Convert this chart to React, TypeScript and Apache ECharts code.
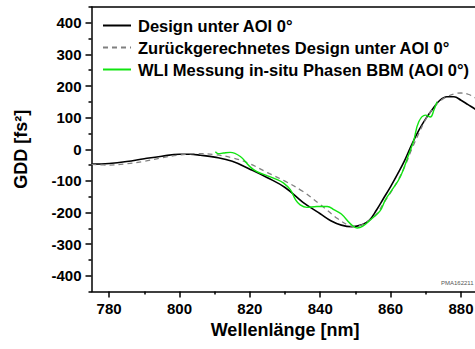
import React, { useEffect, useRef } from "react";
import * as echarts from "echarts";

const designWl = [775, 780, 785, 790, 795, 800, 803, 806, 810, 815, 820, 825, 830, 835, 840, 843, 846, 849, 852, 854, 856, 858, 860, 862, 864, 866, 868, 870, 872, 874, 876, 878, 880, 882, 884, 886];
const designGdd = [-47, -45, -39, -30, -22, -16, -16, -19, -25, -38, -63, -90, -121, -167, -204, -226, -240, -245, -238, -224, -192, -155, -118, -78, -35, 15, 60, 97, 128, 155, 166, 166, 155, 141, 127, 110];

const recalcWl = [775, 780, 785, 790, 795, 800, 805, 810, 815, 820, 825, 830, 835, 840, 845, 848, 850, 852, 854, 856, 858, 860, 862, 864, 866, 868, 870, 872, 874, 876, 878, 880, 882, 884, 886];
const recalcGdd = [-48, -50, -46, -38, -27, -18, -14, -17, -27, -46, -74, -101, -133, -175, -220, -240, -244, -238, -225, -205, -171, -137, -100, -55, 0, 50, 95, 128, 152, 166, 175, 178, 174, 163, 148];

const wliWl = [810.2, 811, 812.5, 814.4, 817.3, 820, 822, 825, 827.6, 829.6, 831.5, 833, 834.3, 836.2, 839, 842, 844, 846, 848.6, 850.5, 852, 854.3, 857, 858.5, 860, 862.8, 865.2, 866.5, 868, 869.9, 871.3, 872.3, 873.2];
const wliGdd = [-8, -14, -12, -10, -23, -55, -71, -84, -95, -107, -128, -160, -176, -184, -181, -181, -192, -205, -236, -249, -244, -223, -195, -160, -135, -86, -15, 25, 87, 108, 102, 124, 150];

const xMajorTicks = [780, 800, 820, 840, 860, 880];
const xMinorTicks = [790, 810, 830, 850, 870];
const yMajorTicks = [-400, -300, -200, -100, 0, 100, 200, 300, 400];
const yMinorTicks = [-450, -350, -250, -150, -50, 50, 150, 250, 350, 450];

const seriesNames = [
  "Design unter AOI 0°",
  "Zurückgerechnetes Design unter AOI 0°",
  "WLI Messung in-situ Phasen BBM (AOI 0°)",
];

const FONT = 'Arial, "Liberation Sans", sans-serif';

function pairs(xs: number[], ys: number[]) {
  return xs.map((x, i) => [x, ys[i]]);
}

export default function App() {
  const ref = useRef<HTMLDivElement>(null);
  useEffect(() => {
    if (!ref.current) return;
    const chart = echarts.init(ref.current, null, { renderer: "svg" });
    const axisLine = { show: true, onZero: false, lineStyle: { color: "#000", width: 1.5 } };
    const hiddenLine = { show: false, onZero: false };
    chart.setOption({
      animation: false,
      backgroundColor: "#fff",
      textStyle: { fontFamily: FONT },
      grid: { left: 91.5, top: 7, right: -3.6, bottom: 57.5, outerBoundsMode: "none", containLabel: false },
      legend: {
        left: 97,
        top: 12,
        orient: "vertical",
        itemWidth: 28,
        itemHeight: 14,
        itemGap: 5,
        data: seriesNames,
        itemStyle: { opacity: 0 },
        textStyle: { fontFamily: FONT, fontSize: 16.5, fontWeight: "bold", color: "#000", lineHeight: 16, padding: [0, 0, 0, 2] },
      },
      xAxis: [
        {
          type: "value",
          min: 775,
          max: 885,
          position: "bottom",
          axisLine,
          splitLine: { show: false },
          axisTick: { show: true, inside: false, length: 6, customValues: xMajorTicks, lineStyle: { color: "#000", width: 1.5 } },
          axisLabel: { customValues: xMajorTicks, margin: 9, fontFamily: FONT, fontSize: 15, fontWeight: "bold", color: "#000" },
          name: "Wellenlänge [nm]",
          nameLocation: "middle",
          nameGap: 29,
          nameTextStyle: { fontFamily: FONT, fontSize: 18, fontWeight: "bold", color: "#000" },
        },
        {
          type: "value",
          min: 775,
          max: 885,
          position: "bottom",
          offset: 0,
          axisLine: hiddenLine,
          splitLine: { show: false },
          axisTick: { show: true, length: 3, customValues: xMinorTicks, lineStyle: { color: "#000", width: 1.5 } },
          axisLabel: { show: false },
        },
        {
          type: "value",
          min: 775,
          max: 885,
          position: "top",
          offset: 0,
          axisLine,
          splitLine: { show: false },
          axisTick: { show: false },
          axisLabel: { show: false },
        },
      ],
      yAxis: [
        {
          type: "value",
          min: -450,
          max: 450,
          position: "left",
          axisLine,
          splitLine: { show: false },
          axisTick: { show: true, length: 6, customValues: yMajorTicks, lineStyle: { color: "#000", width: 1.5 } },
          axisLabel: { customValues: yMajorTicks, margin: 10, fontFamily: FONT, fontSize: 15, fontWeight: "bold", color: "#000" },
          name: "GDD [fs²]",
          nameLocation: "middle",
          nameGap: 62,
          nameTextStyle: { fontFamily: FONT, fontSize: 18, fontWeight: "bold", color: "#000" },
        },
        {
          type: "value",
          min: -450,
          max: 450,
          position: "left",
          offset: 0,
          axisLine: hiddenLine,
          splitLine: { show: false },
          axisTick: { show: true, length: 3, customValues: yMinorTicks, lineStyle: { color: "#000", width: 1.5 } },
          axisLabel: { show: false },
        },
      ],
      series: [
        {
          name: seriesNames[0],
          type: "line",
          data: pairs(designWl, designGdd),
          symbol: "none",
          smooth: 0.4,
          clip: true,
          lineStyle: { color: "#000", width: 1.6 },
          itemStyle: { color: "#000" },
        },
        {
          name: seriesNames[1],
          type: "line",
          data: pairs(recalcWl, recalcGdd),
          symbol: "none",
          smooth: 0.4,
          clip: true,
          lineStyle: { color: "#808080", width: 1.3, type: [5, 4] },
          itemStyle: { color: "#808080" },
        },
        {
          name: seriesNames[2],
          type: "line",
          data: pairs(wliWl, wliGdd),
          symbol: "none",
          smooth: 0.4,
          clip: true,
          lineStyle: { color: "#11e411", width: 1.4 },
          itemStyle: { color: "#11e411" },
        },
      ],
      graphic: [
        {
          type: "text",
          left: 441,
          top: 280,
          style: { text: "PMA162211", fontFamily: FONT, fontSize: 6, fill: "#555" },
        },
      ],
    });
    return () => chart.dispose();
  }, []);
  return (
    <div
      ref={ref}
      style={{ position: "fixed", left: 0, top: 0, width: 475, height: 349, overflow: "hidden" }}
    />
  );
}
